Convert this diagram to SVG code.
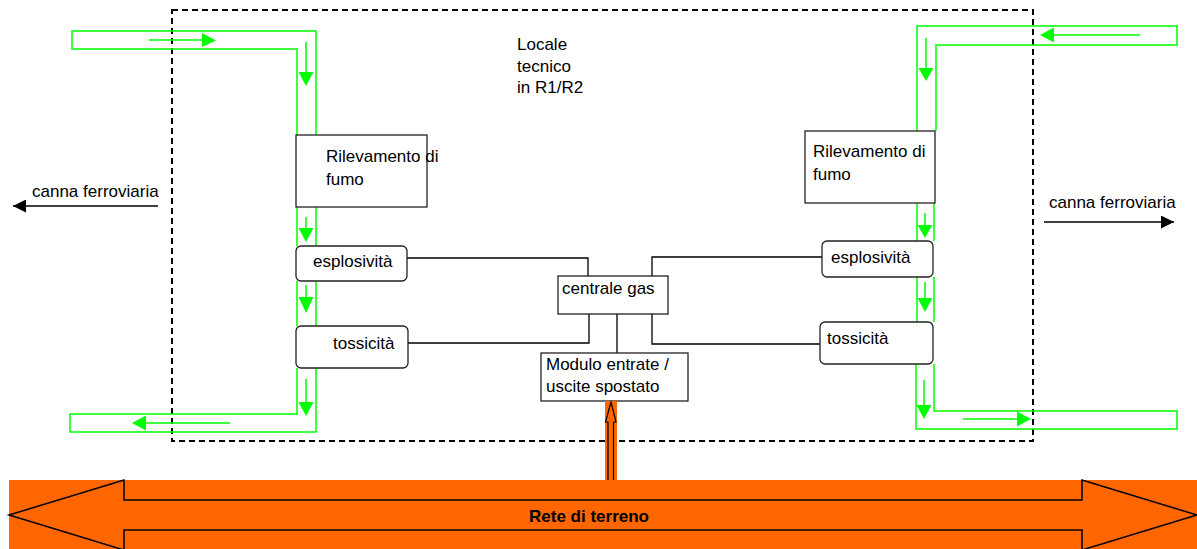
<svg xmlns="http://www.w3.org/2000/svg" width="1197" height="549" viewBox="0 0 1197 549">
<style>
text{font-family:"Liberation Sans",Arial,sans-serif;font-size:17px;fill:#000}
.pipe{fill:none;stroke:#00ff00;stroke-width:1.5}
.ga{stroke:#00ff00;stroke-width:1.5;fill:none}
.gh{fill:#00ff00;stroke:none}
.box{fill:#fff;stroke:#222;stroke-width:1.3}
.wire{fill:none;stroke:#000;stroke-width:1.3}
</style>
<defs>
<marker id="blk" viewBox="0 0 10 10" refX="10" refY="5" markerWidth="15" markerHeight="13" markerUnits="userSpaceOnUse" orient="auto"><path d="M0,0L10,5L0,10z" fill="#000"/></marker>
</defs>
<rect width="1197" height="549" fill="#fff"/>
<!-- dashed room -->
<rect id="locale" x="172" y="10" width="861" height="431" fill="none" stroke="#000" stroke-width="2" stroke-dasharray="6,4"/>
<g id="label-locale"><text x="517" y="50">Locale</text><text x="517" y="72">tecnico</text><text x="517" y="93">in R1/R2</text></g>
<!-- green pipes -->
<g id="pipe-left">
<path class="pipe" d="M297,135V49H72V31H316V135 M297,207V246 M316,207V246 M297,281V326 M316,281V326 M297,368V414H70V432H316V368"/>
<line class="ga" x1="149" y1="40" x2="204" y2="40"/><path class="gh" d="M202,33L216,40.5L202,47z"/>
<line class="ga" x1="306" y1="42" x2="306" y2="73"/><path class="gh" d="M298.5,72L313.5,72L306,86z"/>
<line class="ga" x1="306" y1="217" x2="306" y2="229"/><path class="gh" d="M298.5,228L313.5,228L306,242z"/>
<line class="ga" x1="306" y1="285" x2="306" y2="298"/><path class="gh" d="M298.5,297L313.5,297L306,313z"/>
<line class="ga" x1="306" y1="379" x2="306" y2="403"/><path class="gh" d="M298.5,402L313.5,402L306,416z"/>
<line class="ga" x1="230" y1="423" x2="145" y2="423"/><path class="gh" d="M146,415.5L132,423L146,430.5z"/>
</g>
<g id="pipe-right">
<path class="pipe" d="M917,131V26H1177V45H936V131 M917,203V241 M934,203V241 M917,277V322 M934,277V322 M934,364V411H1177V429H916V364"/>
<line class="ga" x1="1140" y1="35" x2="1053" y2="35"/><path class="gh" d="M1054,27.5L1040,35L1054,42.5z"/>
<line class="ga" x1="926" y1="38" x2="926" y2="69"/><path class="gh" d="M918.5,68L933.5,68L926,81z"/>
<line class="ga" x1="925" y1="213" x2="925" y2="226"/><path class="gh" d="M917.5,225L932.5,225L925,238z"/>
<line class="ga" x1="925" y1="282" x2="925" y2="299"/><path class="gh" d="M917.5,298L932.5,298L925,312z"/>
<line class="ga" x1="924" y1="380" x2="924" y2="406"/><path class="gh" d="M916.5,405L931.5,405L924,419z"/>
<line class="ga" x1="963" y1="419" x2="1018" y2="419"/><path class="gh" d="M1017,411.5L1031,419L1017,426.5z"/>
</g>
<!-- connectors -->
<g id="connectors">
<path class="wire" d="M407,258H588V276"/>
<path class="wire" d="M408,343H589V314"/>
<path class="wire" d="M822,257H652V276"/>
<path class="wire" d="M820,344H652V314"/>
<line class="wire" x1="617" y1="314" x2="617" y2="353"/>
<line class="wire" x1="158" y1="206" x2="13" y2="206" marker-end="url(#blk)"/>
<line class="wire" x1="1044" y1="222" x2="1174" y2="222" marker-end="url(#blk)"/>
</g>
<g id="label-canna-left"><text x="32" y="197">canna ferroviaria</text></g>
<g id="label-canna-right"><text x="1049" y="208">canna ferroviaria</text></g>
<!-- left nodes -->
<g id="fumo-left"><rect class="box" x="296" y="135" width="131" height="72"/><text x="326" y="162">Rilevamento di</text><text x="326" y="185">fumo</text></g>
<g id="esplosivita-left"><rect class="box" x="296" y="246" width="111" height="35" rx="5"/><text x="313" y="267">esplosività</text></g>
<g id="tossicita-left"><rect class="box" x="296" y="326" width="112" height="42" rx="5"/><text x="333" y="349">tossicità</text></g>
<!-- right nodes -->
<g id="fumo-right"><rect class="box" x="805" y="131" width="130" height="72"/><text x="813" y="157">Rilevamento di</text><text x="813" y="180">fumo</text></g>
<g id="esplosivita-right"><rect class="box" x="822" y="241" width="111" height="36" rx="5"/><text x="831" y="263">esplosività</text></g>
<g id="tossicita-right"><rect class="box" x="820" y="322" width="113" height="42" rx="5"/><text x="827" y="344">tossicità</text></g>
<!-- center -->
<g id="centrale-gas"><rect class="box" x="558" y="276" width="110" height="38"/><text x="562" y="294">centrale gas</text></g>
<g id="modulo"><rect class="box" x="541" y="353" width="147" height="48"/><text x="546" y="370">Modulo entrate /</text><text x="546" y="392">uscite spostato</text></g>
<!-- vertical orange link -->
<g id="link-rete">
<rect x="605" y="401" width="12" height="80" fill="#ff6600"/>
<path d="M611,402L616,422H613.5V481H608V422H605.5z" fill="#ff6600" stroke="#000" stroke-width="1.2"/>
</g>
<!-- rete di terreno -->
<g id="rete">
<rect x="9" y="480" width="1188" height="69" fill="#ff6600"/>
<path d="M9,515L124,480V500H1082V480L1197,515L1082,550V530H124V550z" fill="#ff6600" stroke="#000" stroke-width="1.5"/>
<text x="589" y="522" text-anchor="middle" font-weight="bold">Rete di terreno</text>
</g>
</svg>
